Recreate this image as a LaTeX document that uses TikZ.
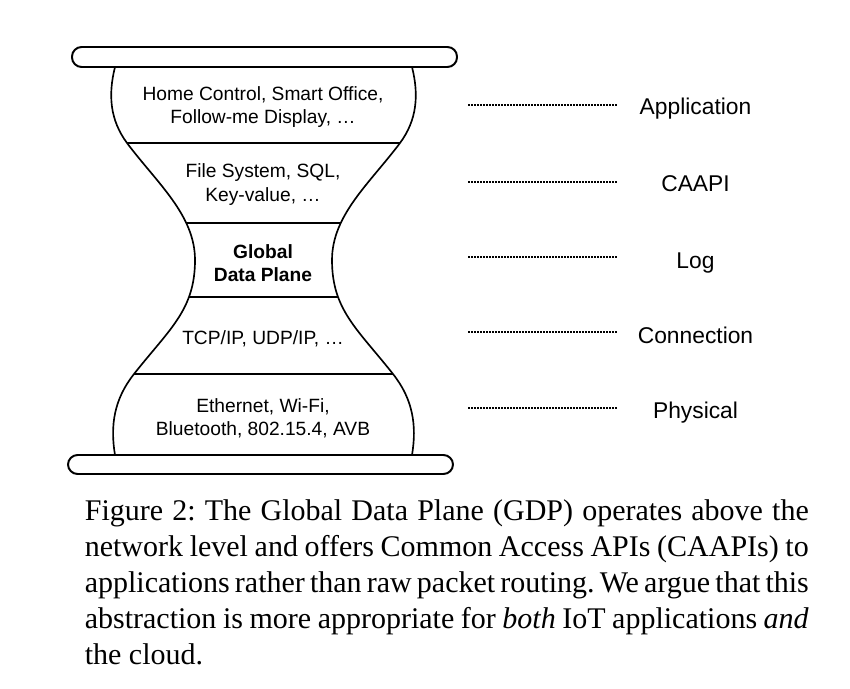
\documentclass[tikz,border=0pt]{standalone}
\usepackage{fontspec}
\setmainfont{Liberation Serif}
\newfontfamily\helv{Liberation Sans}
\begin{document}
\begin{tikzpicture}[x=0.3333pt, y=-0.3333pt, line width=0.55pt,
  layer/.style={font=\helv\fontsize{6.4}{7.8}\selectfont, align=center},
  tag/.style={font=\helv\fontsize{7.6}{9}\selectfont, text height=0.72em, text depth=0.21em},
  dots/.style={line width=0.7pt, dash pattern=on 0.5pt off 0.5pt},
  plate/.style={rounded corners=3.2pt, line width=0.65pt, fill=white}]
\useasboundingbox (0,0) rectangle (850,688);

% layer borders, cut to the inside of the hourglass
\begin{scope}
\clip (115,67) .. controls (108,95) and (110,120) .. (127,143) .. controls (157,183) and (195,215) .. (195,260)
  .. controls (195,310) and (169.5,329) .. (134,374) .. controls (114.25,399) and (110,425) .. (115,455)
  -- (412,455) .. controls (417,425) and (412.75,399) .. (393,374) .. controls (357.5,329) and (332,310) .. (332,260)
  .. controls (332,215) and (370,183) .. (400,143) .. controls (417,120) and (419,95) .. (412,67) -- cycle;
\draw (100,143) -- (430,143);
\draw (100,223) -- (430,223);
\draw (100,297) -- (430,297);
\draw (100,374) -- (430,374);
\end{scope}

% hourglass
\draw (115,67) .. controls (108,95) and (110,120) .. (127,143) .. controls (157,183) and (195,215) .. (195,260)
  .. controls (195,310) and (169.5,329) .. (134,374) .. controls (114.25,399) and (110,425) .. (115,455)
  -- (412,455) .. controls (417,425) and (412.75,399) .. (393,374) .. controls (357.5,329) and (332,310) .. (332,260)
  .. controls (332,215) and (370,183) .. (400,143) .. controls (417,120) and (419,95) .. (412,67) -- cycle;

% plates
\draw[plate] (72,47) rectangle (457,67);
\draw[plate] (68,455) rectangle (453,474);

\node[layer] (l0) at (263,107) {Home Control, Smart Office,\\Follow-me Display, …};
\node[layer] (l1) at (263,184.5) {File System, SQL,\\Key-value, …};
\node[layer, font=\helv\bfseries\fontsize{6.4}{7.8}\selectfont] (l2) at (263,263) {Global\\Data Plane};
\node[layer] (l3) at (263,339) {TCP/IP, UDP/IP, …};
\node[layer] (l4) at (263,418) {Ethernet, Wi-Fi,\\Bluetooth, 802.15.4, AVB};

\coordinate (d0a) at (468,105); \coordinate (d0b) at (618,105);
\coordinate (d1a) at (468,181.7); \coordinate (d1b) at (618,181.7);
\coordinate (d2a) at (468,256.7); \coordinate (d2b) at (618,256.7);
\coordinate (d3a) at (468,331.7); \coordinate (d3b) at (618,331.7);
\coordinate (d4a) at (468,408.3); \coordinate (d4b) at (618,408.3);

\draw[dots] (d0a) -- (d0b);
\draw[dots] (d1a) -- (d1b);
\draw[dots] (d2a) -- (d2b);
\draw[dots] (d3a) -- (d3b);
\draw[dots] (d4a) -- (d4b);

\node[tag] (t0) at (695.5,107.2) {Application};
\node[tag] (t1) at (695.5,184.2) {CAAPI};
\node[tag] (t2) at (695.5,260.9) {Log};
\node[tag] (t3) at (695.5,335.9) {Connection};
\node[tag] (t4) at (695.5,410.9) {Physical};

% caption
\node[anchor=north west, inner sep=0pt, text width=241.3pt, align=justify,
  font=\fontsize{10}{12}\selectfont] (cap) at (84,499)
  {\frenchspacing\spaceskip=0.25em plus 0.15em minus 0.12em\relax
  Figure 2: The Global Data Plane (GDP) operates above the\linebreak network level and offers Common Access APIs (CAAPIs) to\linebreak applications rather than raw packet routing. We argue that this\linebreak abstraction is more appropriate for \textit{both} IoT applications \textit{and}\linebreak the cloud.};
\end{tikzpicture}
\end{document}
